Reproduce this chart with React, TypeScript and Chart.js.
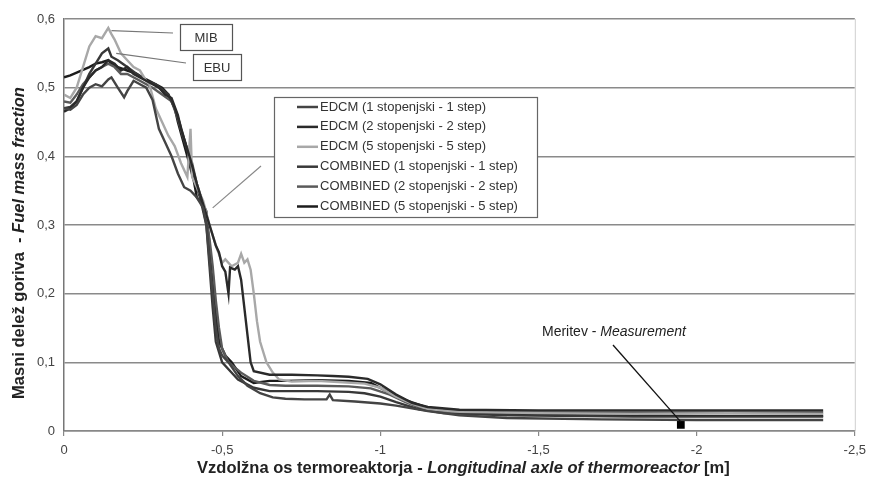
import React, { useEffect, useRef } from "react";
import { Chart, registerables } from "chart.js";

Chart.register(...registerables);

// ---- Data (x in metres along the thermoreactor, y = fuel mass fraction) ----
const SERIES_NAMES = [
  "EDCM (1 stopenjski - 1 step)",
  "EDCM (2 stopenjski - 2 step)",
  "EDCM (5 stopenjski - 5 step)",
  "COMBINED (1 stopenjski - 1 step)",
  "COMBINED (2 stopenjski - 2 step)",
  "COMBINED (5 stopenjski - 5 step)",
];
const SERIES_COLORS = ["#444444", "#2a2a2a", "#a8a8a8", "#383838", "#5a5a5a", "#1c1c1c"];

const EDCM_1: [number, number][] = [
  [0, 0.47], [-0.02, 0.468], [-0.04, 0.475], [-0.06, 0.49], [-0.08, 0.5], [-0.1, 0.505], [-0.12, 0.502],
  [-0.14, 0.512], [-0.15, 0.515], [-0.17, 0.5], [-0.19, 0.486], [-0.2, 0.495], [-0.22, 0.51],
  [-0.24, 0.505], [-0.26, 0.5], [-0.28, 0.482], [-0.3, 0.44], [-0.32, 0.42], [-0.34, 0.4],
  [-0.36, 0.375], [-0.38, 0.355], [-0.4, 0.35], [-0.42, 0.34], [-0.44, 0.325], [-0.45, 0.3],
  [-0.46, 0.25], [-0.47, 0.2], [-0.48, 0.15], [-0.49, 0.12], [-0.5, 0.11], [-0.52, 0.1],
  [-0.55, 0.08], [-0.58, 0.066], [-0.62, 0.055], [-0.66, 0.049], [-0.7, 0.047], [-0.76, 0.046],
  [-0.83, 0.046], [-0.84, 0.053], [-0.85, 0.045], [-0.92, 0.043], [-1.0, 0.04], [-1.05, 0.037],
  [-1.1, 0.033], [-1.15, 0.029], [-1.25, 0.023], [-1.4, 0.019], [-1.7, 0.017], [-2.0, 0.016], [-2.4, 0.016],
];
const EDCM_2: [number, number][] = [
  [0, 0.465], [-0.02, 0.47], [-0.04, 0.48], [-0.06, 0.5], [-0.08, 0.515], [-0.1, 0.525], [-0.12, 0.53],
  [-0.14, 0.54], [-0.16, 0.535], [-0.18, 0.525], [-0.2, 0.53], [-0.22, 0.52], [-0.24, 0.515],
  [-0.26, 0.51], [-0.28, 0.505], [-0.3, 0.5], [-0.32, 0.49], [-0.34, 0.485], [-0.36, 0.46],
  [-0.37, 0.44], [-0.39, 0.41], [-0.4, 0.395], [-0.42, 0.36], [-0.44, 0.33], [-0.46, 0.3],
  [-0.48, 0.27], [-0.49, 0.26], [-0.5, 0.24], [-0.51, 0.232], [-0.52, 0.2], [-0.525, 0.238],
  [-0.54, 0.235], [-0.55, 0.24], [-0.56, 0.22], [-0.57, 0.18], [-0.58, 0.14], [-0.59, 0.1],
  [-0.6, 0.087], [-0.65, 0.082], [-0.72, 0.082], [-0.8, 0.081], [-0.85, 0.08], [-0.9, 0.079],
  [-0.96, 0.076], [-1.0, 0.068], [-1.05, 0.053], [-1.1, 0.041], [-1.15, 0.035], [-1.25, 0.031],
  [-1.5, 0.03], [-1.8, 0.03], [-2.1, 0.03], [-2.4, 0.03],
];
const EDCM_5: [number, number][] = [
  [0, 0.49], [-0.02, 0.485], [-0.04, 0.5], [-0.06, 0.53], [-0.08, 0.56], [-0.1, 0.575], [-0.12, 0.572],
  [-0.14, 0.587], [-0.15, 0.578], [-0.16, 0.57], [-0.18, 0.55], [-0.2, 0.54], [-0.22, 0.53],
  [-0.24, 0.525], [-0.26, 0.51], [-0.27, 0.505], [-0.29, 0.47], [-0.31, 0.45], [-0.33, 0.43],
  [-0.35, 0.415], [-0.37, 0.39], [-0.39, 0.37], [-0.4, 0.44], [-0.405, 0.37], [-0.42, 0.355],
  [-0.44, 0.335], [-0.46, 0.3], [-0.48, 0.27], [-0.5, 0.245], [-0.51, 0.25], [-0.53, 0.24],
  [-0.55, 0.245], [-0.56, 0.258], [-0.57, 0.245], [-0.58, 0.25], [-0.59, 0.235], [-0.6, 0.2],
  [-0.61, 0.16], [-0.62, 0.13], [-0.64, 0.1], [-0.66, 0.085], [-0.68, 0.075], [-0.72, 0.072],
  [-0.8, 0.073], [-0.88, 0.071], [-0.95, 0.069], [-1.0, 0.063], [-1.05, 0.05], [-1.1, 0.04],
  [-1.15, 0.032], [-1.25, 0.028], [-1.5, 0.026], [-1.8, 0.025], [-2.1, 0.026], [-2.4, 0.025],
];
const COMBINED_1: [number, number][] = [
  [0, 0.47], [-0.02, 0.472], [-0.04, 0.48], [-0.06, 0.5], [-0.08, 0.52], [-0.1, 0.535], [-0.12, 0.55],
  [-0.14, 0.557], [-0.15, 0.545], [-0.17, 0.54], [-0.2, 0.53], [-0.23, 0.52], [-0.26, 0.51],
  [-0.29, 0.505], [-0.33, 0.49], [-0.35, 0.47], [-0.365, 0.45], [-0.38, 0.425], [-0.395, 0.4],
  [-0.41, 0.37], [-0.43, 0.34], [-0.45, 0.3], [-0.46, 0.24], [-0.47, 0.18], [-0.48, 0.13],
  [-0.5, 0.1], [-0.52, 0.09], [-0.55, 0.075], [-0.6, 0.063], [-0.65, 0.058], [-0.7, 0.058],
  [-0.8, 0.058], [-0.9, 0.057], [-0.95, 0.055], [-1.0, 0.05], [-1.05, 0.042], [-1.12, 0.032],
  [-1.2, 0.026], [-1.4, 0.023], [-1.8, 0.021], [-2.1, 0.021], [-2.4, 0.021],
];
const COMBINED_2: [number, number][] = [
  [0, 0.48], [-0.02, 0.478], [-0.04, 0.49], [-0.06, 0.505], [-0.08, 0.515], [-0.1, 0.525], [-0.12, 0.53],
  [-0.14, 0.535], [-0.16, 0.53], [-0.18, 0.52], [-0.2, 0.52], [-0.24, 0.51], [-0.28, 0.5],
  [-0.31, 0.49], [-0.34, 0.48], [-0.36, 0.455], [-0.375, 0.43], [-0.39, 0.41], [-0.405, 0.39],
  [-0.42, 0.36], [-0.44, 0.33], [-0.46, 0.28], [-0.47, 0.24], [-0.48, 0.19], [-0.49, 0.15],
  [-0.5, 0.12], [-0.52, 0.1], [-0.56, 0.085], [-0.6, 0.073], [-0.65, 0.067], [-0.7, 0.066],
  [-0.8, 0.066], [-0.9, 0.065], [-0.97, 0.062], [-1.03, 0.053], [-1.08, 0.042], [-1.12, 0.035],
  [-1.2, 0.029], [-1.4, 0.027], [-1.8, 0.027], [-2.1, 0.027], [-2.4, 0.027],
];
const COMBINED_5: [number, number][] = [
  [0, 0.515], [-0.02, 0.518], [-0.04, 0.522], [-0.06, 0.526], [-0.08, 0.53], [-0.1, 0.535],
  [-0.12, 0.537], [-0.14, 0.54], [-0.15, 0.535], [-0.17, 0.53], [-0.2, 0.525], [-0.23, 0.52],
  [-0.26, 0.512], [-0.29, 0.505], [-0.31, 0.5], [-0.33, 0.49], [-0.35, 0.47], [-0.36, 0.45],
  [-0.375, 0.425], [-0.39, 0.4], [-0.41, 0.365], [-0.42, 0.34], [-0.44, 0.33], [-0.45, 0.32],
  [-0.46, 0.27], [-0.47, 0.23], [-0.48, 0.17], [-0.49, 0.13], [-0.51, 0.11], [-0.53, 0.1],
  [-0.56, 0.08], [-0.6, 0.07], [-0.65, 0.073], [-0.7, 0.073], [-0.8, 0.074], [-0.9, 0.073],
  [-0.97, 0.07], [-1.02, 0.058], [-1.08, 0.045], [-1.15, 0.034], [-1.3, 0.026], [-1.6, 0.023],
  [-2.0, 0.022], [-2.4, 0.022],
];
const SERIES_DATA = [EDCM_1, EDCM_2, EDCM_5, COMBINED_1, COMBINED_2, COMBINED_5];

// Measurement point
const MEASUREMENT_X = [-1.95];
const MEASUREMENT_Y = [0.009];

const X_MIN = -2.5;
const X_MAX = 0;
const Y_MIN = 0;
const Y_MAX = 0.6;

const fmt = (v: number) => String(Number(v.toFixed(2))).replace(".", ",");

const FONT = "'Liberation Sans', Arial, sans-serif";

function drawParts(
  ctx: CanvasRenderingContext2D,
  parts: { text: string; font: string }[],
  cx: number,
  cy: number,
  align: "center" | "left" = "center"
) {
  let total = 0;
  const widths = parts.map((p) => {
    ctx.font = p.font;
    const w = ctx.measureText(p.text).width;
    total += w;
    return w;
  });
  let x = align === "center" ? cx - total / 2 : cx;
  ctx.textBaseline = "middle";
  ctx.textAlign = "left";
  parts.forEach((p, i) => {
    ctx.font = p.font;
    ctx.fillText(p.text, x, cy);
    x += widths[i];
  });
}

const annotationsPlugin = {
  id: "annotations",
  afterDraw(chart: any) {
    const ctx: CanvasRenderingContext2D = chart.ctx;
    const ca = chart.chartArea;
    const xs = chart.scales.x;
    const ys = chart.scales.y;
    ctx.save();

    // right border
    ctx.strokeStyle = "#cfcfcf";
    ctx.lineWidth = 1;
    ctx.beginPath();
    ctx.moveTo(ca.right + 0.5, ca.top);
    ctx.lineTo(ca.right + 0.5, ca.bottom);
    ctx.stroke();

    // axis titles
    ctx.fillStyle = "#222";
    drawParts(
      ctx,
      [
        { text: "Vzdolžna os termoreaktorja - ", font: `bold 16.5px ${FONT}` },
        { text: "Longitudinal axle of thermoreactor", font: `italic bold 16.5px ${FONT}` },
        { text: " [m]", font: `bold 16.5px ${FONT}` },
      ],
      (ca.left + ca.right) / 2 + 4,
      468
    );
    ctx.save();
    ctx.translate(19, 243);
    ctx.rotate(-Math.PI / 2);
    drawParts(
      ctx,
      [
        { text: "Masni delež goriva  - ", font: `bold 16.5px ${FONT}` },
        { text: "Fuel mass fraction", font: `italic bold 16.5px ${FONT}` },
      ],
      0,
      0
    );
    ctx.restore();

    // callouts MIB / EBU
    const box = (x1: number, y1: number, x2: number, y2: number, label: string) => {
      ctx.fillStyle = "#fff";
      ctx.fillRect(x1, y1, x2 - x1, y2 - y1);
      ctx.strokeStyle = "#555";
      ctx.lineWidth = 1.2;
      ctx.strokeRect(x1 + 0.5, y1 + 0.5, x2 - x1, y2 - y1);
      ctx.fillStyle = "#333";
      ctx.font = `13px ${FONT}`;
      ctx.textAlign = "center";
      ctx.textBaseline = "middle";
      ctx.fillText(label, (x1 + x2) / 2, (y1 + y2) / 2 + 1);
    };
    const leader = (x1: number, y1: number, x2: number, y2: number, color: string, w = 1.2) => {
      ctx.strokeStyle = color;
      ctx.lineWidth = w;
      ctx.beginPath();
      ctx.moveTo(x1, y1);
      ctx.lineTo(x2, y2);
      ctx.stroke();
    };
    leader(xs.getPixelForValue(-0.15), ys.getPixelForValue(0.583), 173, 33, "#777");
    leader(xs.getPixelForValue(-0.165), ys.getPixelForValue(0.55), 186, 63, "#777");
    box(180, 24, 232, 50, "MIB");
    box(193, 54, 241, 80, "EBU");

    // legend box
    leader(261, 166, xs.getPixelForValue(-0.47), ys.getPixelForValue(0.325), "#888");
    const lx1 = 274, ly1 = 97, lx2 = 537, ly2 = 217;
    ctx.fillStyle = "#fff";
    ctx.fillRect(lx1, ly1, lx2 - lx1, ly2 - ly1);
    ctx.strokeStyle = "#666";
    ctx.lineWidth = 1.2;
    ctx.strokeRect(lx1 + 0.5, ly1 + 0.5, lx2 - lx1, ly2 - ly1);
    SERIES_NAMES.forEach((name, i) => {
      const cy = 107 + i * 19.9;
      ctx.strokeStyle = SERIES_COLORS[i];
      ctx.lineWidth = 2.5;
      ctx.beginPath();
      ctx.moveTo(297, cy);
      ctx.lineTo(318, cy);
      ctx.stroke();
      ctx.fillStyle = "#333";
      ctx.font = `13px ${FONT}`;
      ctx.textAlign = "left";
      ctx.textBaseline = "middle";
      ctx.fillText(name, 320, cy);
    });

    // measurement label
    const mx = xs.getPixelForValue(MEASUREMENT_X[0]);
    const my = ys.getPixelForValue(MEASUREMENT_Y[0]);
    leader(613, 345, mx, my - 3, "#111", 1.3);
    ctx.fillStyle = "#222";
    drawParts(
      ctx,
      [
        { text: "Meritev - ", font: `14px ${FONT}` },
        { text: "Measurement", font: `italic 14px ${FONT}` },
      ],
      542,
      332,
      "left"
    );
    ctx.restore();
  },
};

export default function App() {
  const canvasRef = useRef<HTMLCanvasElement | null>(null);

  useEffect(() => {
    const canvas = canvasRef.current;
    if (!canvas) return;
    const datasets: any[] = SERIES_DATA.map((pts, i) => ({
      label: SERIES_NAMES[i],
      data: pts.map(([x, y]) => ({ x, y })),
      borderColor: SERIES_COLORS[i],
      backgroundColor: SERIES_COLORS[i],
      borderWidth: 2.4,
      pointRadius: 0,
      tension: 0,
      fill: false,
    }));
    datasets.push({
      type: "scatter",
      label: "Meritev - Measurement",
      data: MEASUREMENT_X.map((x, i) => ({ x, y: MEASUREMENT_Y[i] })),
      pointStyle: "rect",
      pointRadius: 5.5,
      backgroundColor: "#000",
      borderColor: "#000",
      borderWidth: 0,
      showLine: false,
    });

    const chart = new Chart(canvas, {
      type: "line",
      data: { datasets },
      options: {
        responsive: false,
        animation: false,
        layout: { padding: { left: 0, top: 19, right: 14, bottom: 0 } },
        plugins: { legend: { display: false }, tooltip: { enabled: false } },
        scales: {
          x: {
            type: "linear",
            min: X_MIN,
            max: X_MAX,
            reverse: true,
            afterFit: (s: any) => {
              s.height = 48;
            },
            ticks: {
              stepSize: 0.5,
              callback: (v: any) => fmt(Number(v)),
              color: "#444",
              font: { family: FONT, size: 13 },
              padding: 7,
              maxRotation: 0,
            },
            grid: {
              drawOnChartArea: false,
              drawTicks: true,
              tickLength: 5,
              color: "#888",
              lineWidth: 1.2,
            },
            border: { color: "#888", width: 1.5 },
          },
          y: {
            min: Y_MIN,
            max: Y_MAX,
            afterFit: (s: any) => {
              s.width = 64;
            },
            ticks: {
              stepSize: 0.1,
              callback: (v: any) => fmt(Number(v)),
              color: "#444",
              font: { family: FONT, size: 13 },
              padding: 9,
            },
            grid: {
              color: "#8a8a8a",
              lineWidth: 1.5,
              drawTicks: false,
            },
            border: { color: "#777", width: 1.5 },
          },
        },
      } as any,
      plugins: [annotationsPlugin],
    });
    return () => chart.destroy();
  }, []);

  return (
    <div style={{ position: "fixed", left: 0, top: 0, width: 873, height: 479, background: "#fff" }}>
      <canvas ref={canvasRef} width={873} height={479} style={{ display: "block" }} />
    </div>
  );
}
